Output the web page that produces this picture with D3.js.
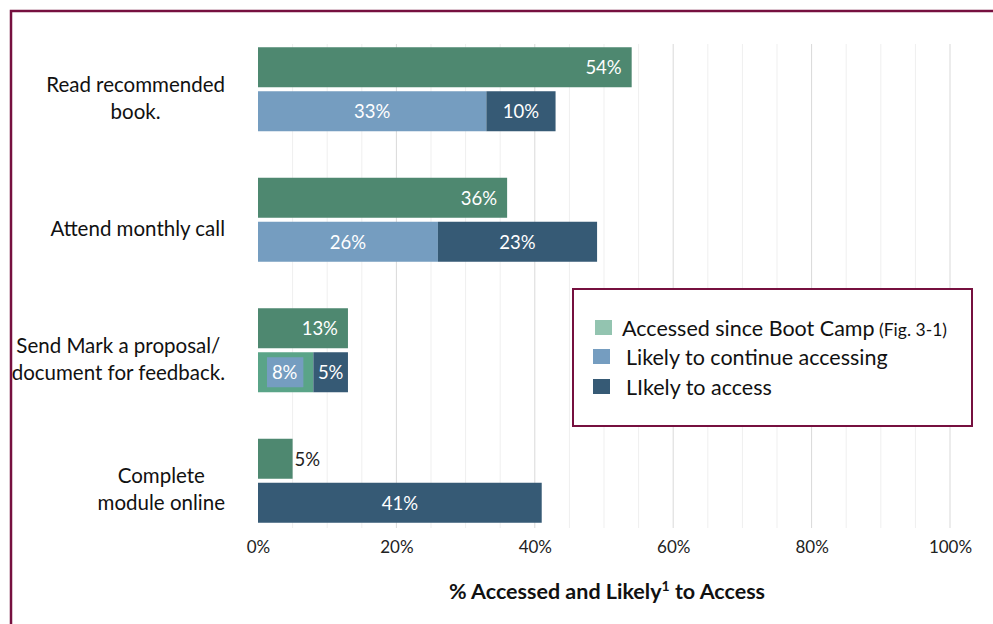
<!DOCTYPE html>
<html>
<head>
<meta charset="utf-8">
<script src="https://cdn.jsdelivr.net/npm/d3@7"></script>
<style>
  html, body { margin: 0; padding: 0; background: #fff; }
  svg { display: block; font-family: Lato, "Open Sans", sans-serif; }
</style>
</head>
<body>
<svg id="chart" width="993" height="624"></svg>
<script>
// Activities and their percentages
const categories = [
  ["Read recommended", "book."],
  ["Attend monthly call"],
  ["Send Mark a proposal/", "document for feedback."],
  ["Complete", "module online"]
];
const accessed   = [54, 36, 13, 5];   // Accessed since Boot Camp
const continuing = [33, 26, 8, 0];    // Likely to continue accessing
const likely     = [10, 23, 5, 41];   // Likely to access
const xTicks = [0, 20, 40, 60, 80, 100];
const legendLabels = ["Accessed since Boot Camp", "Likely to continue accessing", "LIkely to access"];

const colors = {
  accessed: "#4e8870",
  continuing: "#759dc0",
  likely: "#365a75",
  legendAccessed: "#93c4b0",
  narrowFill: "#5aa488",
  frame: "#76103f"
};

const svg = d3.select("#chart");
const keys = categories.map((c, i) => i);

const x = d3.scaleLinear().domain([0, 100]).range([258, 950]);
const y = d3.scaleBand().domain(keys).range([24, 546]).paddingInner(0);

// Outer frame (top and left edges)
svg.append("path")
  .attr("d", "M11,624 L11,11 L993,11")
  .attr("fill", "none")
  .attr("stroke", colors.frame)
  .attr("stroke-width", 2.5);

// Grid lines: minor every 5%, major every 20%
const grid = svg.append("g");
d3.range(5, 101, 5).forEach(v => {
  const major = v % 20 === 0;
  grid.append("line")
    .attr("x1", x(v)).attr("x2", x(v))
    .attr("y1", 44).attr("y2", 528)
    .attr("stroke", major ? "#d9d9d9" : "#efefef")
    .attr("stroke-width", 1);
});

// Axis tick labels
const xAxis = d3.axisBottom(x).tickValues(xTicks).tickFormat(d => d + "%").tickSize(0).tickPadding(0);
const axisG = svg.append("g").attr("transform", "translate(0,541)").call(xAxis);
axisG.select(".domain").remove();
axisG.selectAll("text")
  .attr("font-family", "Lato, sans-serif")
  .attr("font-size", 17)
  .attr("fill", "#222")
  .attr("dy", "0.71em");

// Axis title with superscript
const title = svg.append("text")
  .attr("x", 607).attr("y", 599)
  .attr("text-anchor", "middle")
  .attr("font-size", 21.5)
  .attr("font-weight", "bold")
  .attr("fill", "#111");
title.append("tspan").text("% Accessed and Likely");
title.append("tspan").attr("font-size", 14).attr("dy", -8).text("1");
title.append("tspan").attr("dy", 8).text(" to Access");

// Category labels: each block sits right against the plot, lines centred within it
const labelRight = 225;
keys.forEach(i => {
  const lines = categories[i];
  const cy = y(i) + y.bandwidth() / 2 + 9;
  const lh = 27;
  const t = svg.append("text")
    .attr("text-anchor", "middle")
    .attr("font-size", 20.5)
    .attr("fill", "#111");
  const spans = lines.map((ln, j) => t.append("tspan")
      .attr("y", cy + (j - (lines.length - 1) / 2) * lh + 7)
      .text(ln));
  const maxW = d3.max(spans, s => s.node().getComputedTextLength());
  spans.forEach(s => s.attr("x", labelRight - maxW / 2));
});

const barH = 40, gap = 4;
const bars = svg.append("g");
const labels = svg.append("g").attr("font-size", 18.5);

keys.forEach(i => {
  const cy = y(i) + y.bandwidth() / 2;
  // Accessed since Boot Camp bar
  const gy = cy - gap / 2 - barH;
  bars.append("rect")
    .attr("x", x(0)).attr("y", gy)
    .attr("width", x(accessed[i]) - x(0)).attr("height", barH)
    .attr("fill", colors.accessed);
  const gw = x(accessed[i]) - x(0);
  if (gw > 40) {
    labels.append("text")
      .attr("x", x(accessed[i]) - 10).attr("y", gy + barH / 2 + 7)
      .attr("text-anchor", "end").attr("fill", "#fff")
      .text(accessed[i] + "%");
  } else {
    labels.append("text")
      .attr("x", x(accessed[i]) + 2).attr("y", gy + barH / 2 + 7)
      .attr("fill", "#222")
      .text(accessed[i] + "%");
  }

  // Stacked likelihood bar
  const by = cy + gap / 2;
  const segs = [
    { v: continuing[i], start: 0, fill: colors.continuing },
    { v: likely[i], start: continuing[i], fill: colors.likely }
  ];
  segs.forEach(s => {
    if (s.v <= 0) return;
    const x0 = x(s.start), x1 = x(s.start + s.v);
    const w = x1 - x0;
    const narrow = s.fill === colors.continuing && w < 70;
    bars.append("rect")
      .attr("x", x0).attr("y", by)
      .attr("width", w).attr("height", barH)
      .attr("fill", narrow ? colors.narrowFill : s.fill);
    if (narrow) {
      // label chip keeps the segment colour behind the number
      bars.append("rect")
        .attr("x", x0 + 9).attr("y", by + 5)
        .attr("width", w - 19).attr("height", barH - 10)
        .attr("fill", colors.continuing);
    }
    labels.append("text")
      .attr("x", (x0 + x1) / 2 + (narrow ? -1 : 0)).attr("y", by + barH / 2 + 7)
      .attr("text-anchor", "middle").attr("fill", "#fff")
      .text(s.v + "%");
  });
});

// Legend
const lg = svg.append("g");
lg.append("rect")
  .attr("x", 573).attr("y", 289).attr("width", 399).attr("height", 137)
  .attr("fill", "#fff").attr("stroke", colors.frame).attr("stroke-width", 2);
const swatches = [colors.legendAccessed, colors.continuing, colors.likely];
const rowY = [328, 357, 387];
const swX = [595, 593, 593];
const txX = [622, 626, 626];
legendLabels.forEach((lab, j) => {
  lg.append("rect")
    .attr("x", swX[j]).attr("y", rowY[j] - 8).attr("width", 17).attr("height", 15)
    .attr("fill", swatches[j]);
  const t = lg.append("text")
    .attr("x", txX[j]).attr("y", rowY[j] + 8)
    .attr("font-size", 21.5).attr("fill", "#111")
    .text(lab);
  if (j === 0) {
    t.append("tspan").attr("font-size", 17.5).text(" (Fig. 3-1)");
  }
});
</script>
</body>
</html>
